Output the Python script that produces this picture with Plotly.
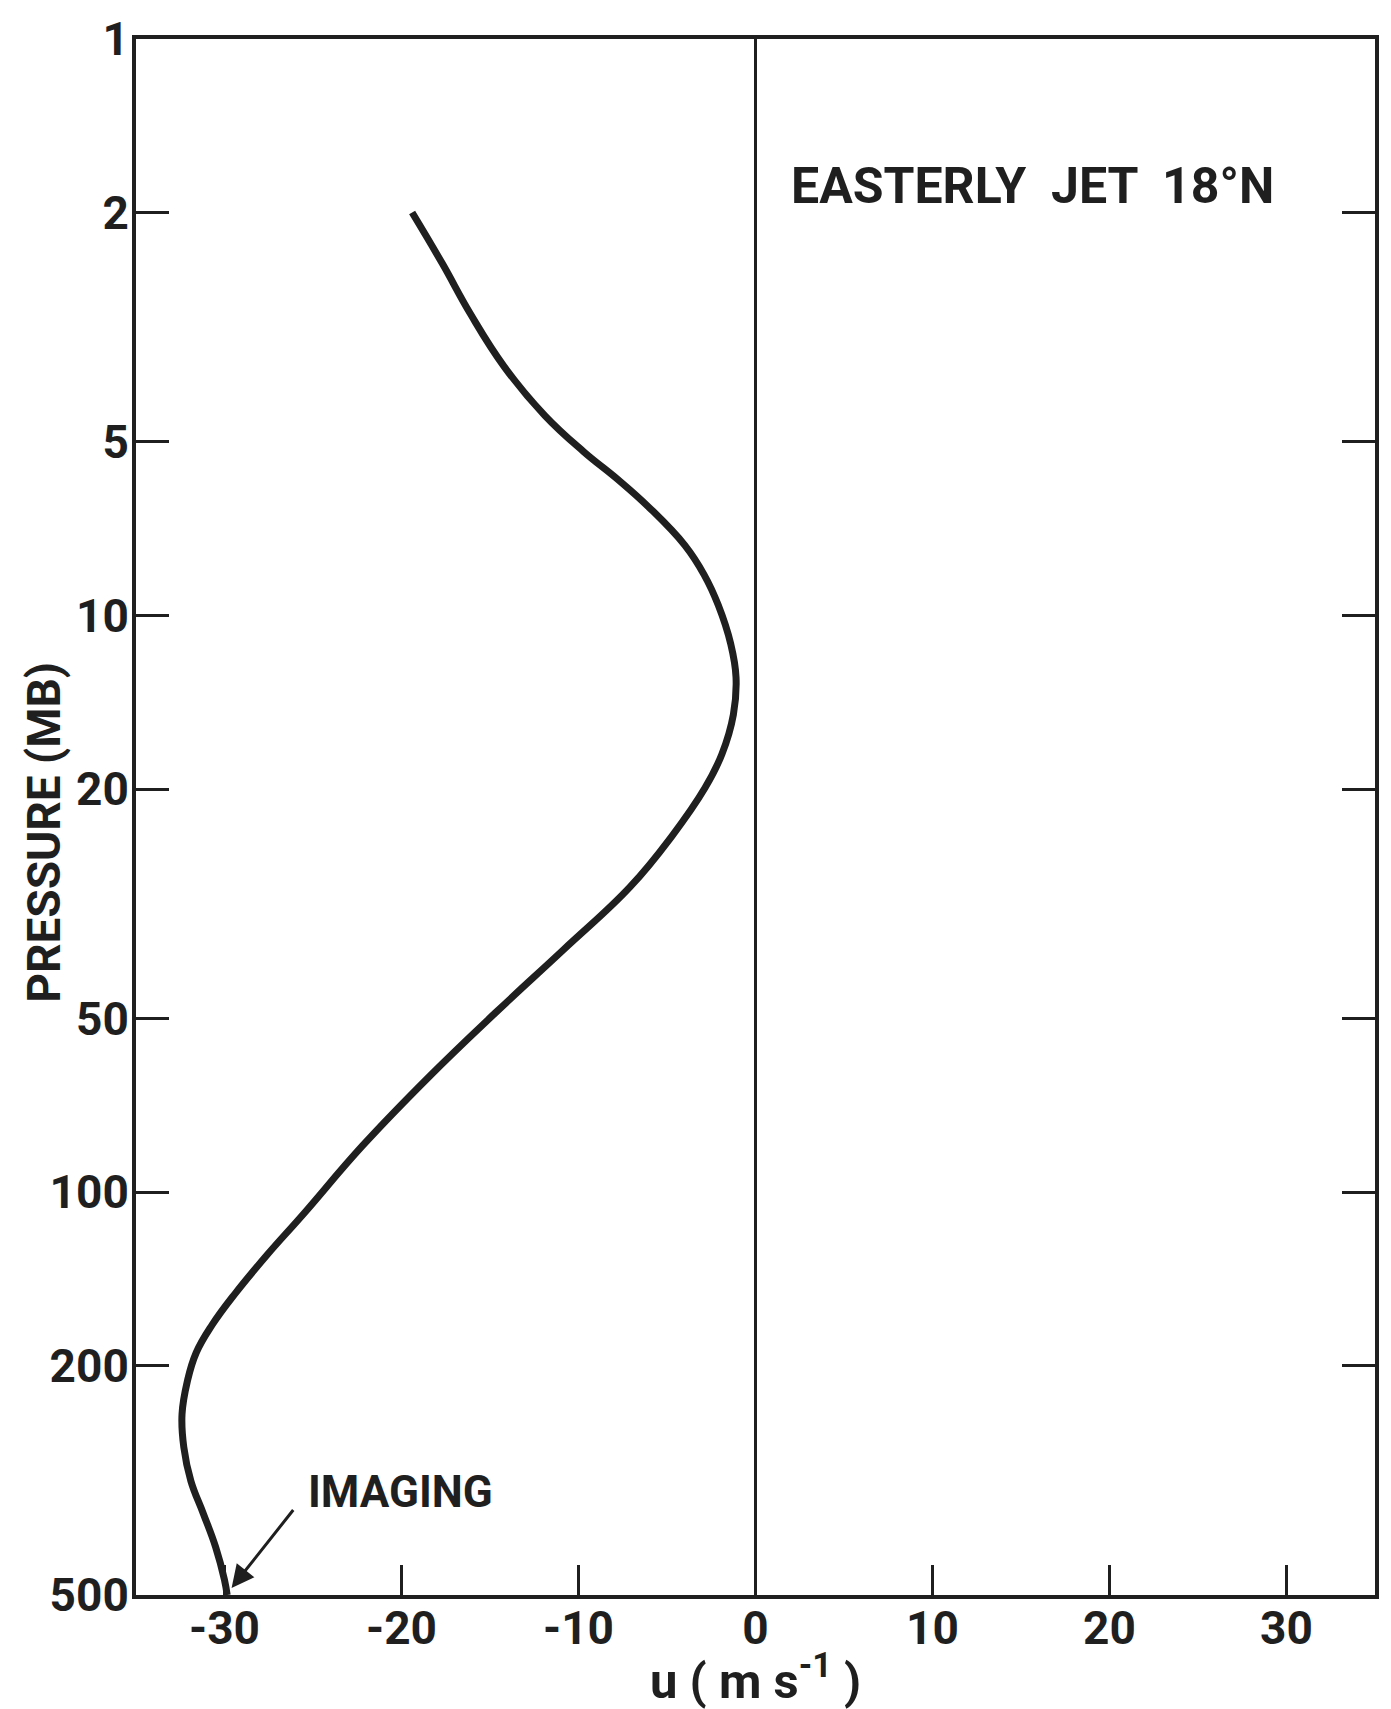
import math
import plotly.graph_objects as go

# ---- data ----
pressure_mb = [2.0, 2.45, 3.0, 3.7, 4.5, 5.2, 5.8, 6.5, 7.55, 8.5, 9.6, 11.2, 12.8,
               14.85, 17.4, 19.9, 24.2, 29.6, 38.0, 48.9, 62.9, 83.1, 109.7, 128.6,
               150.0, 170.0, 190.0, 213.0, 243.0, 277.0, 317.0, 361.0, 413.0,
               471.0, 500.0]
u_wind = [-19.4, -17.7, -16.1, -14.2, -11.9, -9.7, -7.8, -6.0, -4.0, -2.9, -2.1, -1.4,
          -1.1, -1.25, -1.9, -2.85, -4.75, -7.1, -10.85, -14.7, -18.4, -22.2, -25.6,
          -27.6, -29.4, -30.7, -31.6, -32.1, -32.4, -32.3, -31.9, -31.2, -30.5,
          -30.0, -29.85]

y_tick_vals = [1, 2, 5, 10, 20, 50, 100, 200, 500]
y_tick_text = ["1", "2", "5", "10", "20", "50", "100", "200", "500"]
x_tick_vals = [-30, -20, -10, 0, 10, 20, 30]
x_tick_text = ["-30", "-20", "-10", "0", "10", "20", "30"]

title_text = "EASTERLY  JET  18°N"
imaging_label = "IMAGING"
imaging_point = (-29.6, 486.0)   # arrow tip (u, p)
imaging_tail = (-26.05, 354.0)   # arrow tail (u, p)

INK = "#1f1f1f"
FONT = "Roboto"

fig = go.Figure()
fig.add_trace(go.Scatter(
    x=u_wind, y=pressure_mb, mode="lines",
    line=dict(color=INK, width=7, shape="spline", smoothing=1.2),
    showlegend=False, hoverinfo="skip",
))

fig.update_layout(
    width=1391, height=1709, autosize=False,
    margin=dict(l=136, r=12, t=31, b=114),
    paper_bgcolor="white", plot_bgcolor="white",
    font=dict(family=FONT, color=INK, size=46, weight="bold"),
    xaxis=dict(
        range=[-35, 35], tickmode="array", tickvals=x_tick_vals, ticktext=x_tick_text,
        ticks="inside", ticklen=30, tickwidth=3, tickcolor=INK,
        showline=True, linewidth=4, linecolor=INK, mirror=True,
        showgrid=False, zeroline=True, zerolinecolor=INK, zerolinewidth=3,
        tickfont=dict(family=FONT, size=46, color=INK, weight="bold"),
        ticklabelstandoff=-10,
    ),
    yaxis=dict(
        type="log", range=[math.log10(500), 0], tickmode="array",
        tickvals=y_tick_vals, ticktext=y_tick_text,
        ticks="inside", ticklen=33, tickwidth=3, tickcolor=INK,
        showline=True, linewidth=4, linecolor=INK, mirror="ticks",
        showgrid=False, zeroline=False,
        tickfont=dict(family=FONT, size=46, color=INK, weight="bold"),
        ticklabelstandoff=-6,
    ),
)

annotations = [
    dict(text=title_text, x=1.875, y=math.log10(1.80), xref="x", yref="y",
         xanchor="left", yanchor="middle", showarrow=False,
         font=dict(family=FONT, size=50, color=INK, weight="bold")),
    dict(text=imaging_label, x=-25.4, y=math.log10(331.0), xref="x", yref="y",
         xanchor="left", yanchor="middle", showarrow=False,
         font=dict(family=FONT, size=44, color=INK, weight="bold")),
    dict(text="", x=imaging_point[0], y=math.log10(imaging_point[1]),
         xref="x", yref="y", ax=imaging_tail[0], ay=math.log10(imaging_tail[1]),
         axref="x", ayref="y", showarrow=True, arrowhead=2, arrowsize=1.5,
         arrowwidth=3, arrowcolor=INK, standoff=0),
    dict(text="u ( m s<sup>-1</sup> )", x=0.4996, y=-0.0531, xref="paper", yref="paper",
         xanchor="center", yanchor="middle", showarrow=False,
         font=dict(family=FONT, size=49, color=INK, weight="bold")),
    dict(text="PRESSURE (MB)", x=-0.0745, y=0.4904, xref="paper", yref="paper",
         xanchor="center", yanchor="middle", showarrow=False, textangle=-90,
         font=dict(family=FONT, size=46, color=INK, weight="bold")),
]
fig.update_layout(annotations=annotations)

fig.write_html("out.html")
